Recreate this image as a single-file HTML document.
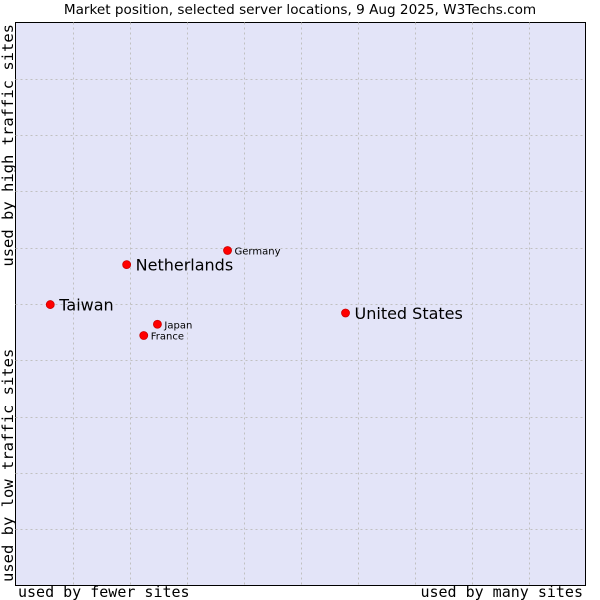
<!DOCTYPE html>
<html><head><meta charset="utf-8"><style>
body{margin:0;background:#fff;width:600px;height:600px;overflow:hidden}
svg{display:block}
</style></head><body>
<svg width="600" height="600">
<text x="300" y="14" text-anchor="middle" font-family="DejaVu Sans, sans-serif" font-size="13.6" fill="#000">Market position, selected server locations, 9 Aug 2025, W3Techs.com</text>
<rect x="15.5" y="22.5" width="570" height="563" fill="#e3e4f8" stroke="#000" stroke-width="1"/>
<g id="grid"></g>
<text transform="translate(13,24) rotate(-90)" text-anchor="end" font-family="DejaVu Sans Mono, monospace" font-size="15.5">used by high traffic sites</text>
<text transform="translate(13,582) rotate(-90)" text-anchor="start" font-family="DejaVu Sans Mono, monospace" font-size="15.5">used by low traffic sites</text>
<text x="18" y="597" font-family="DejaVu Sans Mono, monospace" font-size="15">used by fewer sites</text>
<text x="583" y="597" text-anchor="end" font-family="DejaVu Sans Mono, monospace" font-size="15">used by many sites</text>
<g id="marks"></g>
</svg>
<script>
const names=["Taiwan","Netherlands","Germany","Japan","France","United States"];
const xVals=[6.1,19.5,37.2,24.9,22.5,57.9];
const yVals=[49.9,57.0,59.5,46.4,44.4,48.4];
const bigLabel=[true,true,false,false,false,true];
const ns="http://www.w3.org/2000/svg";
const X0=15.5,X1=585.5,Y0=585.5,Y1=22.5;
const sx=v=>X0+(X1-X0)*v/100, sy=v=>Y0-(Y0-Y1)*v/100;
const grid=document.getElementById('grid');
for(let i=1;i<10;i++){
  const v=document.createElementNS(ns,'line');
  
  
  const x=Math.round(sx(i*10))+0.5;
  v.setAttribute('x1',x);v.setAttribute('x2',x);v.setAttribute('y1',Y1);v.setAttribute('y2',Y0);
  v.setAttribute('stroke','#c0c0c0');v.setAttribute('stroke-dasharray','2,3');grid.appendChild(v);
  const h=document.createElementNS(ns,'line');
  
  
  const y=Math.round(sy(i*10))+0.5;
  h.setAttribute('x1',X0);h.setAttribute('x2',X1);h.setAttribute('y1',y);h.setAttribute('y2',y);
  h.setAttribute('stroke','#c0c0c0');h.setAttribute('stroke-dasharray','2,3');grid.appendChild(h);
}
const marks=document.getElementById('marks');
names.forEach((n,i)=>{
  const x=sx(xVals[i]),y=sy(yVals[i]);
  const c=document.createElementNS(ns,'circle');
  
  
  c.setAttribute('cx',x);c.setAttribute('cy',y);c.setAttribute('r',4);
  c.setAttribute('fill','#ff0000');c.setAttribute('stroke','#cc0000');c.setAttribute('stroke-width','0.8');
  marks.appendChild(c);
  const t=document.createElementNS(ns,'text');
  
  
  t.setAttribute('x',x+(bigLabel[i]?9:7));
  t.setAttribute('y',y+(bigLabel[i]?6:4));
  t.setAttribute('font-family','DejaVu Sans, sans-serif');
  t.setAttribute('font-size',bigLabel[i]?'16':'10');
  t.textContent=n;
  marks.appendChild(t);
});
</script>
</body></html>
